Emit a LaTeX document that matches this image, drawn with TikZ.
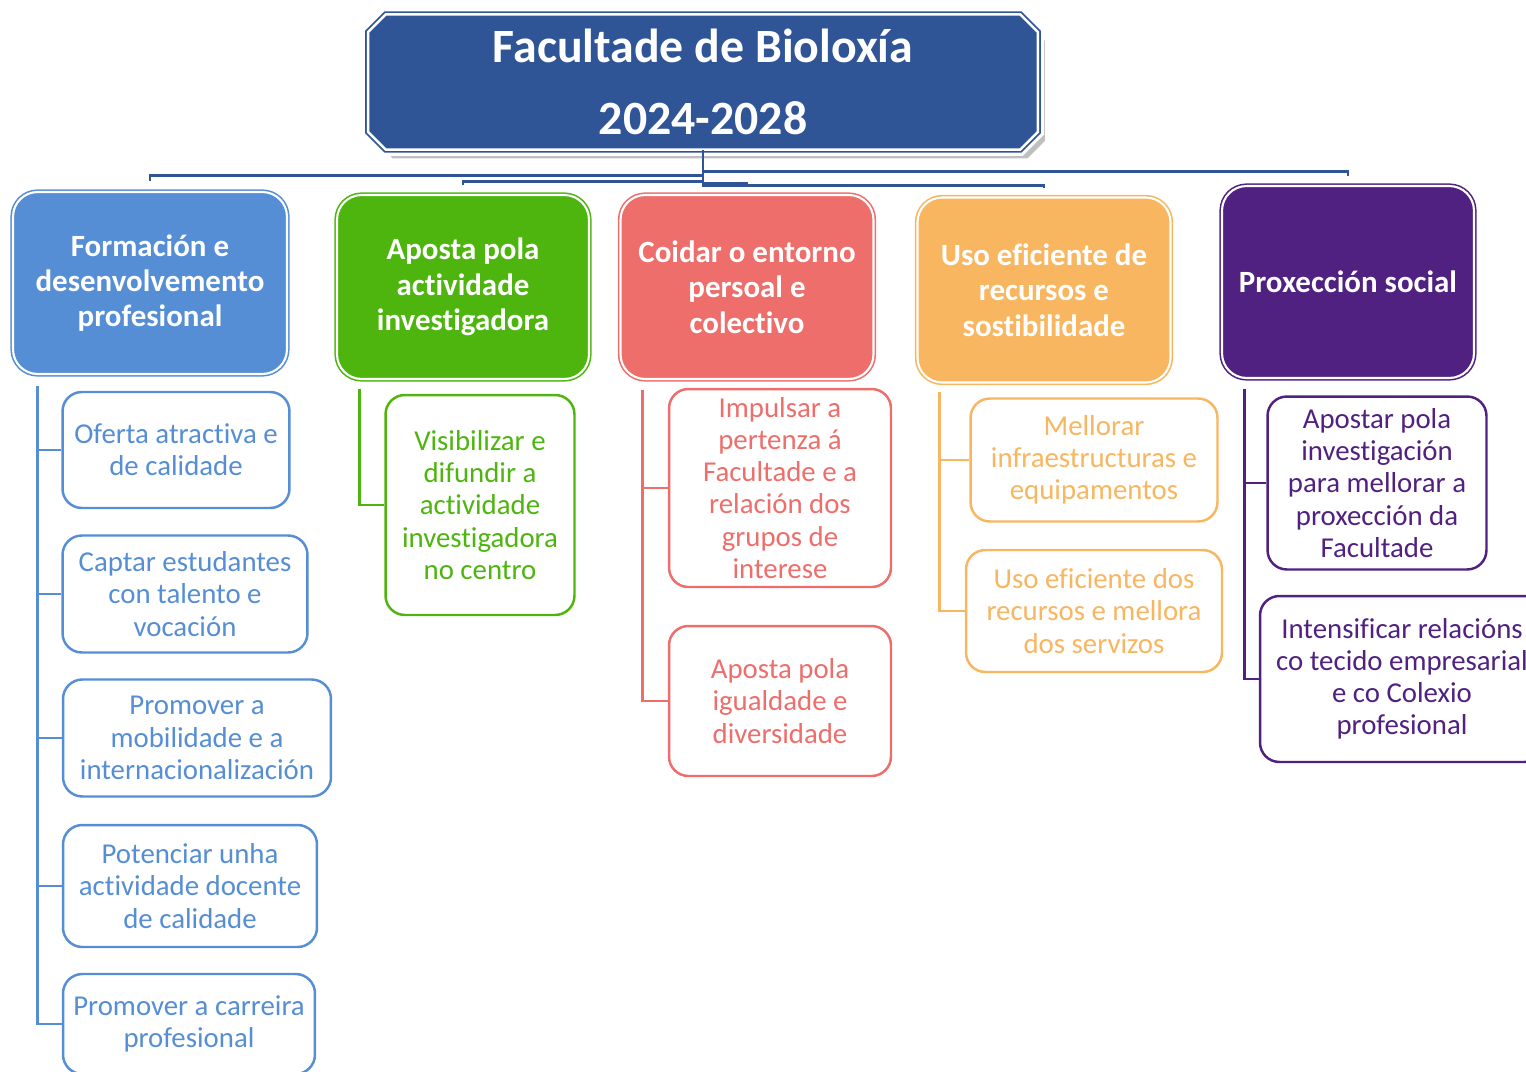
\documentclass[tikz,border=0pt]{standalone}
\usepackage{fontspec}
\setmainfont{Carlito}[Ligatures=NoCommon]
\usetikzlibrary{shapes.misc,shadows,calc}
\definecolor{titleblue}{RGB}{47,85,151}
\definecolor{formblue}{RGB}{85,142,213}
\definecolor{invgreen}{RGB}{77,181,14}
\definecolor{coidred}{RGB}{237,110,107}
\definecolor{recorange}{RGB}{248,182,96}
\definecolor{proxpurple}{RGB}{80,33,128}

\begin{document}
\begin{tikzpicture}[x=0.02cm, y=-0.02cm,
    head/.style={draw=#1, fill=#1, double=white, double distance=1.2pt, line width=0.9pt, rounded corners=14pt, align=center, text=white, font=\fontsize{17.6}{20.1}\selectfont\bfseries, inner sep=2pt},
    goal/.style={draw=#1, fill=white, line width=1.4pt, rounded corners=11pt, align=center, text=#1, font=\fontsize{16.4}{18.3}\selectfont, inner sep=1pt},
    trunk/.style={draw=#1, line width=1.6pt},
    tline/.style={draw=titleblue, line width=1.4pt}
]
    \useasboundingbox (0,0) rectangle (1526,1072);

    % title
    \node[chamfered rectangle, chamfered rectangle xsep=5pt, chamfered rectangle ysep=5pt,
        draw=titleblue, double=white, double distance=1.4pt, line width=1pt, fill=titleblue,
        drop shadow={shadow xshift=4pt, shadow yshift=-5pt, opacity=.5},
        preaction={draw=white, line width=7pt},
        text=white, minimum width=13.4cm, minimum height=2.6cm, align=center,
        font=\fontsize{27.2}{41}\selectfont\bfseries] (title) at (703,82) {Facultade de Bioloxía\\2024-2028};

    % headers
    \node[head=formblue, minimum width=5.48cm, minimum height=3.64cm] (hform) at (150,283) {Formación e\\desenvolvemento\\profesional};
    \node[head=invgreen, minimum width=5.04cm, minimum height=3.68cm] (hinv) at (463,287) {Aposta pola\\actividade\\investigadora};
    \node[head=coidred, minimum width=5.06cm, minimum height=3.68cm] (hcoid) at (747,287) {Coidar o entorno\\persoal e\\colectivo};
    \node[head=recorange, minimum width=5.06cm, minimum height=3.7cm] (hrec) at (1044,290) {Uso eficiente de\\recursos e\\sostibilidade};
    \node[head=proxpurple, minimum width=5.04cm, minimum height=3.84cm] (hprox) at (1348,282) {Proxección social};

    \draw[tline] (title.south) -- ++(0,21) -| ([yshift=5pt]hprox.north);
    \draw[tline] (title.south) -- ++(0,25) -| ([yshift=6pt]hform.north);
    \draw[tline] (title.south) -- ++(0,31) -| ([yshift=5pt]hinv.north);
    \draw[tline] (title.south) -- ++(0,33) -| ([yshift=5pt]hcoid.north);
    \draw[tline] (title.south) -- ++(0,35) -| ([yshift=5pt]hrec.north);

    % Formación
    \node[goal=formblue, minimum width=4.54cm, minimum height=2.32cm] (sf1) at (176,450) {Oferta atractiva e\\de calidade};
    \node[goal=formblue, minimum width=4.9cm, minimum height=2.34cm] (sf2) at (185,594) {Captar estudantes\\con talento e\\vocación};
    \node[goal=formblue, minimum width=5.36cm, minimum height=2.34cm] (sf3) at (197,738) {Promover a\\mobilidade e a\\internacionalización};
    \node[goal=formblue, minimum width=5.08cm, minimum height=2.44cm] (sf4) at (190,886) {Potenciar unha\\actividade docente\\de calidade};
    \node[goal=formblue, minimum width=5.04cm, minimum height=2.0cm] (sf5) at (189,1024) {Promover a carreira\\profesional};
    \draw[trunk=formblue] ($(hform.south west)+(25,11)$) coordinate (tf) |- (sf5.west);
    \foreach \n in {1,...,4}
        \draw[trunk=formblue] (tf |- sf\n.west) -- (sf\n.west);

    % Investigación
    \node[goal=invgreen, minimum width=3.78cm, minimum height=4.4cm] (sg1) at (480,505) {Visibilizar e\\difundir a\\actividade\\investigadora\\no centro};
    \draw[trunk=invgreen] ($(hinv.south west)+(23,9)$) |- (sg1.west);

    % Coidar
    \node[goal=coidred, minimum width=4.44cm, minimum height=3.96cm] (sr1) at (780,488) {Impulsar a\\pertenza á\\Facultade e a\\relación dos\\grupos de\\interese};
    \node[goal=coidred, minimum width=4.44cm, minimum height=3.0cm] (sr2) at (780,701) {Aposta pola\\igualdade e\\diversidade};
    \draw[trunk=coidred] ($(hcoid.south west)+(23,10)$) coordinate (tr) |- (sr2.west);
    \draw[trunk=coidred] (tr |- sr1.west) -- (sr1.west);

    % Recursos
    \node[goal=recorange, minimum width=4.94cm, minimum height=2.46cm] (so1) at (1094,460) {Mellorar\\infraestructuras e\\equipamentos};
    \node[goal=recorange, minimum width=5.12cm, minimum height=2.44cm] (so2) at (1094,611) {Uso eficiente dos\\recursos e mellora\\dos servizos};
    \draw[trunk=recorange] ($(hrec.south west)+(23,9)$) coordinate (to) |- (so2.west);
    \draw[trunk=recorange] (to |- so1.west) -- (so1.west);

    % Proxección
    \node[goal=proxpurple, minimum width=4.38cm, minimum height=3.46cm] (sp1) at (1377,483) {Apostar pola\\investigación\\para mellorar a\\proxección da\\Facultade};
    \node[goal=proxpurple, minimum width=5.68cm, minimum height=3.32cm] (sp2) at (1402,679) {Intensificar relacións\\co tecido empresarial\\e co Colexio\\profesional};
    \draw[trunk=proxpurple] ($(hprox.south west)+(23,10)$) coordinate (tp) |- (sp2.west);
    \draw[trunk=proxpurple] (tp |- sp1.west) -- (sp1.west);
\end{tikzpicture}
\end{document}
